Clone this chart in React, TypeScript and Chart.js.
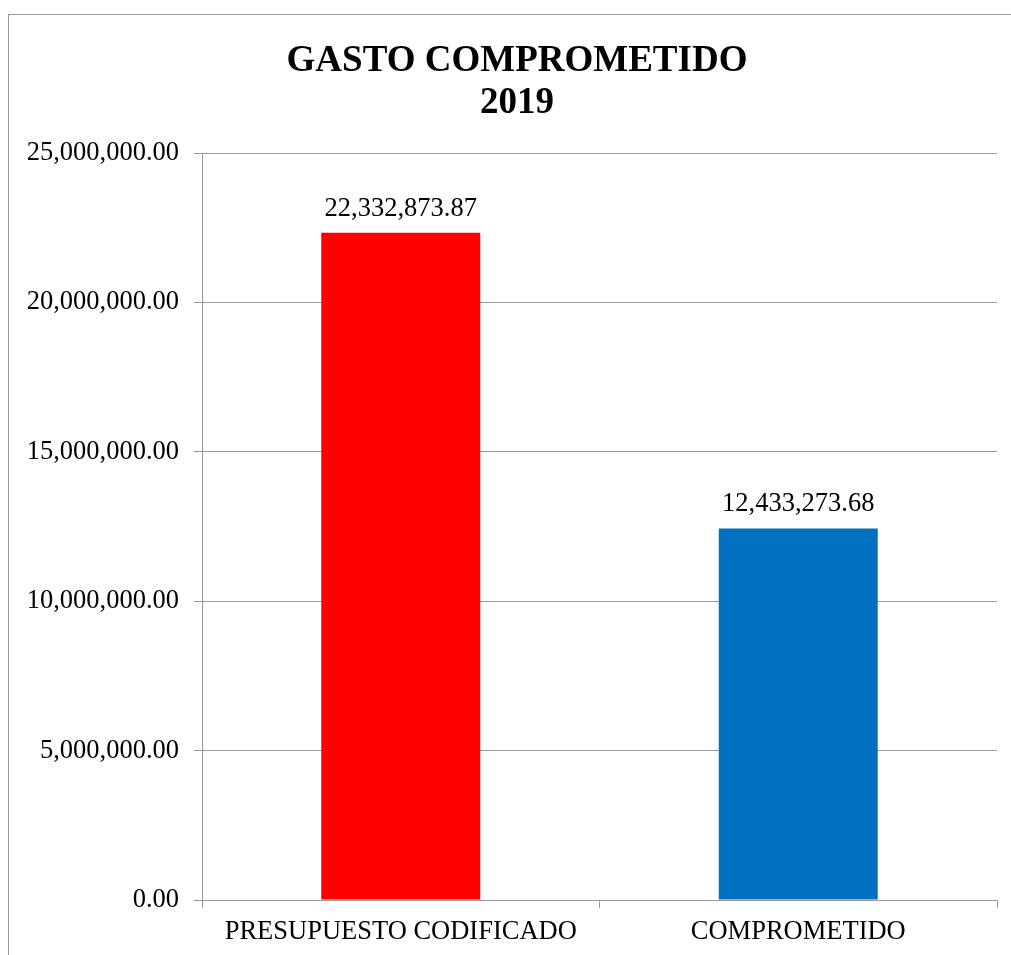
import React, { useEffect, useRef } from "react";
import { Chart, registerables } from "chart.js";

Chart.register(...registerables);

const categories = ["PRESUPUESTO CODIFICADO", "COMPROMETIDO"];
const values = [22332873.87, 12433273.68];
const barColors = ["#FF0000", "#0070C0"];
const titleLines = ["GASTO COMPROMETIDO", "2019"];
const yMax = 25000000;
const yStep = 5000000;

const fmt = (v: number) =>
  Number(v).toLocaleString("en-US", { minimumFractionDigits: 2, maximumFractionDigits: 2 });

const FONT = "'Liberation Serif', 'Times New Roman', serif";
const LABEL_SIZE = 26.5;

const dataLabelPlugin = {
  id: "dataLabels",
  afterDatasetsDraw(chart: any) {
    const ctx = chart.ctx;
    const meta = chart.getDatasetMeta(0);
    ctx.save();
    ctx.font = `${LABEL_SIZE}px ${FONT}`;
    ctx.fillStyle = "#000";
    ctx.textAlign = "center";
    ctx.textBaseline = "middle";
    meta.data.forEach((bar: any, i: number) => {
      ctx.fillText(fmt(values[i]), bar.x, bar.y - 24);
    });
    ctx.restore();
  },
};

// Centre the title over the whole frame (not only over the layout boxes).
const titleShiftPlugin = {
  id: "titleShift",
  afterLayout(chart: any) {
    const t = chart.titleBlock;
    if (t) {
      t.left += 28;
      t.width = t.right - t.left;
    }
  },
};

export default function App() {
  const ref = useRef<HTMLCanvasElement | null>(null);
  useEffect(() => {
    if (!ref.current) return;
    const chart = new Chart(ref.current, {
      type: "bar",
      data: {
        labels: categories,
        datasets: [
          {
            data: values,
            backgroundColor: barColors,
            borderWidth: 0,
            barPercentage: 0.4,
            categoryPercentage: 1,
          },
        ],
      },
      options: {
        animation: false,
        responsive: false,
        maintainAspectRatio: false,
        layout: { padding: { left: 0, right: 14, top: 0, bottom: 0 } },
        plugins: {
          legend: { display: false },
          tooltip: { enabled: false },
          title: {
            display: true,
            text: titleLines,
            color: "#000",
            font: { family: FONT, size: 37, weight: "bold", lineHeight: 42 / 37 },
            padding: { top: 25, bottom: 29 },
          },
        },
        scales: {
          x: {
            afterFit(scale: any) {
              scale.height = 55;
            },
            grid: {
              display: true,
              drawOnChartArea: false,
              drawTicks: true,
              tickLength: 8,
              color: "#999",
              offset: true,
            },
            border: { display: true, color: "#999", width: 1 },
            ticks: {
              color: "#000",
              font: { family: FONT, size: LABEL_SIZE },
              padding: 8,
              maxRotation: 0,
              autoSkip: false,
            },
          },
          y: {
            min: 0,
            max: yMax,
            afterFit(scale: any) {
              scale.width = 193;
            },
            grid: {
              color: "#999",
              tickLength: 8,
              drawTicks: true,
            },
            border: { display: true, color: "#999", width: 1 },
            ticks: {
              stepSize: yStep,
              color: "#000",
              font: { family: FONT, size: LABEL_SIZE },
              padding: 15,
              callback: (v: any) => fmt(Number(v)),
            },
          },
        },
      },
      plugins: [dataLabelPlugin, titleShiftPlugin],
    });
    return () => chart.destroy();
  }, []);

  return (
    <div
      style={{
        position: "absolute",
        left: 8,
        top: 14,
        width: 1003,
        height: 941,
        borderLeft: "1px solid #999",
        borderTop: "1px solid #999",
        background: "#fff",
        overflow: "hidden",
      }}
    >
      <canvas ref={ref} width={1002} height={940} style={{ display: "block", width: 1002, height: 940 }} />
    </div>
  );
}
